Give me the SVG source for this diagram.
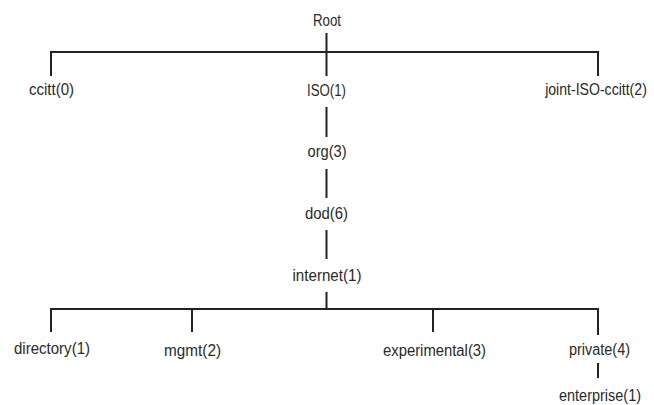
<svg xmlns="http://www.w3.org/2000/svg" width="654" height="405" viewBox="0 0 654 405">
<style>
.n text{font-family:"Liberation Sans",Arial,sans-serif;font-size:16px;fill:#2a2a2a;text-anchor:middle}
.c line{stroke:#222;stroke-width:2;stroke-linecap:square}
</style>
<rect width="654" height="405" fill="#fff"/>
<g class="c" id="connectors">
<line x1="326.5" y1="34" x2="326.5" y2="75"/>
<line x1="51" y1="52" x2="598" y2="52"/>
<line x1="51" y1="52" x2="51" y2="75"/>
<line x1="598" y1="52" x2="598" y2="75"/>
<line x1="326.5" y1="108" x2="326.5" y2="136"/>
<line x1="326.5" y1="170" x2="326.5" y2="197"/>
<line x1="326.5" y1="231" x2="326.5" y2="258"/>
<line x1="326.5" y1="293" x2="326.5" y2="308"/>
<line x1="51" y1="309" x2="598" y2="309"/>
<line x1="51" y1="309" x2="51" y2="331"/>
<line x1="192" y1="309" x2="192" y2="331"/>
<line x1="433" y1="309" x2="433" y2="331"/>
<line x1="598" y1="309" x2="598" y2="334"/>
<line x1="598" y1="364" x2="598" y2="377"/>
</g>
<g class="n" id="root"><text x="327" y="26" textLength="28" lengthAdjust="spacingAndGlyphs">Root</text></g>
<g class="n" id="ccitt"><text x="51.5" y="95" textLength="45" lengthAdjust="spacingAndGlyphs">ccitt(0)</text></g>
<g class="n" id="iso"><text x="326.5" y="96" textLength="39" lengthAdjust="spacingAndGlyphs">ISO(1)</text></g>
<g class="n" id="joint"><text transform="translate(596 95) scale(0.88 1)">joint-ISO-ccitt(2)</text></g>
<g class="n" id="org"><text x="327" y="157" textLength="39" lengthAdjust="spacingAndGlyphs">org(3)</text></g>
<g class="n" id="dod"><text x="326.5" y="219" textLength="43" lengthAdjust="spacingAndGlyphs">dod(6)</text></g>
<g class="n" id="internet"><text x="327" y="281" textLength="69" lengthAdjust="spacingAndGlyphs">internet(1)</text></g>
<g class="n" id="directory"><text x="52" y="354" textLength="76" lengthAdjust="spacingAndGlyphs">directory(1)</text></g>
<g class="n" id="mgmt"><text x="192.5" y="356" textLength="57" lengthAdjust="spacingAndGlyphs">mgmt(2)</text></g>
<g class="n" id="experimental"><text x="434.5" y="356" textLength="103" lengthAdjust="spacingAndGlyphs">experimental(3)</text></g>
<g class="n" id="private"><text x="599.5" y="355" textLength="61" lengthAdjust="spacingAndGlyphs">private(4)</text></g>
<g class="n" id="enterprise"><text x="600" y="401" textLength="82" lengthAdjust="spacingAndGlyphs">enterprise(1)</text></g>
</svg>
